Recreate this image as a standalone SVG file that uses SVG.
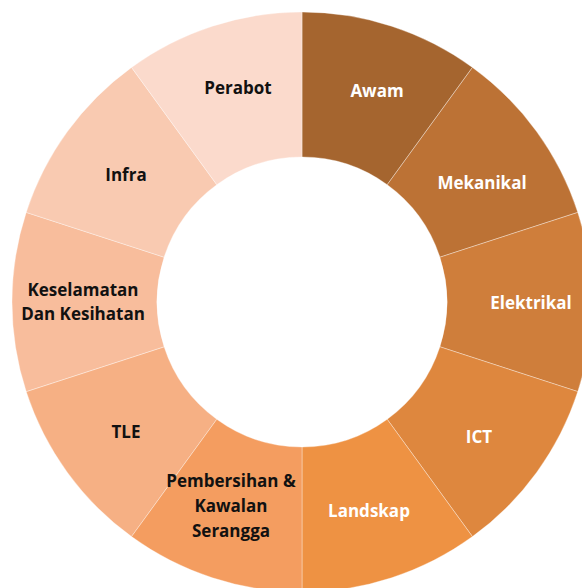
<svg xmlns="http://www.w3.org/2000/svg" width="582" height="588" viewBox="0 0 582 588">
<style>
.seg{stroke:#ffffff;stroke-opacity:0.35;stroke-width:1}
text{font-family:"Open Sans","Liberation Sans",sans-serif;font-weight:700;font-size:17px;text-anchor:middle}
.w{fill:#ffffff}
.d{fill:#111111}
</style>
<rect width="582" height="588" fill="#ffffff"/>
<g id="awam">
<path class="seg" fill="#A5652F" d="M302,12 A290,290 0 0 1 472.46,67.38 L387.23,184.69 A145,145 0 0 0 302,157 Z"/>
<text class="w" x="377" y="97">Awam</text>
</g>
<g id="mekanikal">
<path class="seg" fill="#BC7235" d="M472.46,67.38 A290,290 0 0 1 577.81,212.38 L439.90,257.19 A145,145 0 0 0 387.23,184.69 Z"/>
<text class="w" x="482" y="189">Mekanikal</text>
</g>
<g id="elektrikal">
<path class="seg" fill="#CF7E3B" d="M577.81,212.38 A290,290 0 0 1 577.81,391.62 L439.90,346.81 A145,145 0 0 0 439.90,257.19 Z"/>
<text class="w" x="531" y="309">Elektrikal</text>
</g>
<g id="ict">
<path class="seg" fill="#DE873E" d="M577.81,391.62 A290,290 0 0 1 472.46,536.62 L387.23,419.31 A145,145 0 0 0 439.90,346.81 Z"/>
<text class="w" x="479" y="443">ICT</text>
</g>
<g id="landskap">
<path class="seg" fill="#EE9243" d="M472.46,536.62 A290,290 0 0 1 302,592 L302,447 A145,145 0 0 0 387.23,419.31 Z"/>
<text class="w" x="369" y="517">Landskap</text>
</g>
<g id="tle">
<path class="seg" fill="#F6B084" d="M131.54,536.62 A290,290 0 0 1 26.19,391.62 L164.10,346.81 A145,145 0 0 0 216.77,419.31 Z"/>
<text class="d" x="126" y="438">TLE</text>
</g>
<g id="keselamatan">
<path class="seg" fill="#F8BD9C" d="M26.19,391.62 A290,290 0 0 1 26.19,212.38 L164.10,257.19 A145,145 0 0 0 164.10,346.81 Z"/>
<text class="d" x="83" y="296">Keselamatan</text>
<text class="d" x="83" y="320">Dan Kesihatan</text>
</g>
<g id="infra">
<path class="seg" fill="#F9CAB1" d="M26.19,212.38 A290,290 0 0 1 131.54,67.38 L216.77,184.69 A145,145 0 0 0 164.10,257.19 Z"/>
<text class="d" x="126" y="181">Infra</text>
</g>
<g id="perabot">
<path class="seg" fill="#FBDACC" d="M131.54,67.38 A290,290 0 0 1 302,12 L302,157 A145,145 0 0 0 216.77,184.69 Z"/>
<text class="d" x="238" y="94">Perabot</text>
</g>
<g id="pembersihan">
<path class="seg" fill="#F49D60" d="M302,592 A290,290 0 0 1 131.54,536.62 L216.77,419.31 A145,145 0 0 0 302,447 Z"/>
<text class="d" x="231" y="487">Pembersihan &amp;</text>
<text class="d" x="231" y="512">Kawalan</text>
<text class="d" x="231" y="537">Serangga</text>
</g>
<g id="connectors"></g>
</svg>
